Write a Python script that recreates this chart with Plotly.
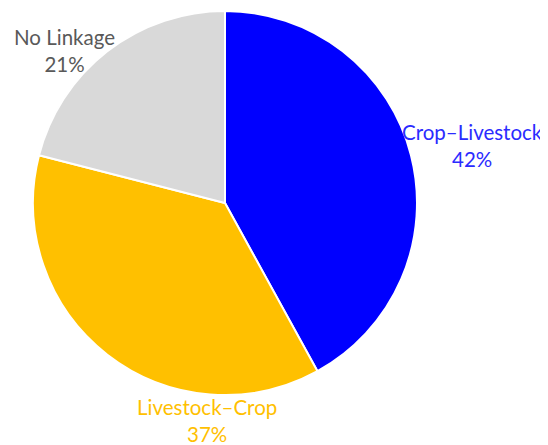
import plotly.graph_objects as go

labels = ["Crop–Livestock", "Livestock–Crop", "No Linkage"]
values = [42, 37, 21]
slice_colors = ["#0000FF", "#FFC000", "#D9D9D9"]
label_colors = ["#2B2BFF", "#FFC000", "#595959"]

# page body has an 8px margin; compensate
OFF = 8
W, H = 548 - OFF, 445 - OFF
cx, cy, r = 225 - OFF, 203 - OFF, 192

fig = go.Figure(go.Pie(
    labels=labels, values=values, sort=False, direction="clockwise", rotation=0,
    marker=dict(colors=slice_colors, line=dict(color="white", width=2)),
    textinfo="none", hoverinfo="label+percent",
    domain=dict(x=[(cx - r) / W, (cx + r) / W], y=[1 - (cy + r) / H, 1 - (cy - r) / H]),
    showlegend=False,
))

label_pos = [(472 - OFF, 145 - OFF), (207 - OFF, 420 - OFF), (64 - OFF, 50 - OFF)]
for lab, val, col, (px, py) in zip(labels, values, label_colors, label_pos):
    fig.add_annotation(
        x=px / W, y=1 - py / H, xref="paper", yref="paper",
        text=f"{lab}<br>{val}%", showarrow=False, xanchor="center", yanchor="middle",
        font=dict(family="Lato", size=20.5, color=col), align="center",
    )

fig.update_layout(
    width=W, height=H, margin=dict(l=0, r=0, t=0, b=0),
    paper_bgcolor="white", plot_bgcolor="white",
)
fig.write_html("out.html")
